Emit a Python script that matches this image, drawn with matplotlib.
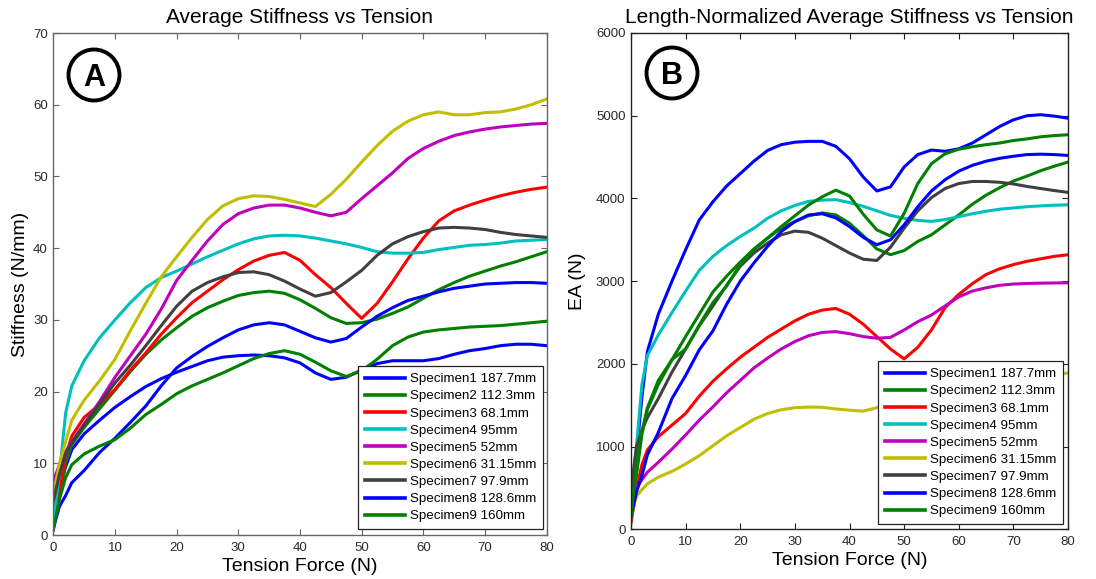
import matplotlib
matplotlib.use("Agg")
import matplotlib.pyplot as plt
from matplotlib.patches import Circle

plt.rcParams["font.family"] = ["Liberation Sans", "DejaVu Sans"]

# ── data ──────────────────────────────────────────────────────────────────────
tension = [0, 1, 2, 3, 5, 7.5, 10, 12.5, 15, 17.5, 20, 22.5, 25, 27.5, 30, 32.5,
           35, 37.5, 40, 42.5, 45, 47.5, 50, 52.5, 55, 57.5, 60, 62.5, 65, 67.5,
           70, 72.5, 75, 77.5, 80]

labels = ["Specimen1 187.7mm", "Specimen2 112.3mm", "Specimen3 68.1mm",
          "Specimen4 95mm", "Specimen5 52mm", "Specimen6 31.15mm",
          "Specimen7 97.9mm", "Specimen8 128.6mm", "Specimen9 160mm"]

# average stiffness (N/mm), panel A
stiff_1 = [2.1, 6.5, 9.5, 11.9, 14.1, 16.0, 17.8, 19.3, 20.7, 21.8, 22.7, 23.5, 24.3, 24.8, 25.0, 25.1,
           25.0, 24.7, 24.0, 22.6, 21.7, 22.0, 23.0, 23.9, 24.3, 24.3, 24.3, 24.6, 25.2, 25.7,
           26.0, 26.4, 26.6, 26.6, 26.4]
stiff_2 = [0.7, 5.5, 10.0, 12.6, 15.0, 17.6, 20.2, 22.8, 25.2, 27.2, 28.9, 30.5, 31.7, 32.6, 33.4, 33.8,
           34.0, 33.7, 32.8, 31.6, 30.3, 29.5, 29.6, 30.1, 30.9, 31.8, 33.0, 34.2, 35.2, 36.1,
           36.8, 37.5, 38.1, 38.8, 39.5]
stiff_3 = [1.2, 6.2, 11.0, 13.8, 16.4, 18.2, 20.3, 23.0, 25.4, 28.0, 30.3, 32.4, 34.0, 35.6, 37.0, 38.2,
           39.0, 39.4, 38.3, 36.3, 34.5, 32.3, 30.2, 32.3, 35.3, 38.5, 41.4, 43.8, 45.2, 46.0,
           46.7, 47.3, 47.8, 48.2, 48.5]
stiff_4 = [2.0, 8.5, 17.0, 20.8, 24.3, 27.5, 30.0, 32.4, 34.5, 35.9, 36.8, 37.8, 38.8, 39.7, 40.6, 41.3,
           41.7, 41.8, 41.7, 41.4, 41.0, 40.6, 40.1, 39.5, 39.3, 39.3, 39.4, 39.8, 40.1, 40.4,
           40.5, 40.7, 41.0, 41.1, 41.2]
stiff_5 = [7.5, 9.8, 11.6, 13.0, 15.5, 18.6, 22.0, 25.0, 28.0, 31.5, 35.5, 38.3, 41.0, 43.3, 44.8, 45.6,
           46.0, 46.0, 45.6, 45.0, 44.5, 45.0, 46.9, 48.7, 50.5, 52.5, 53.9, 54.9, 55.7, 56.2,
           56.6, 56.9, 57.1, 57.3, 57.4]
stiff_6 = [5.5, 10.0, 13.0, 16.0, 18.8, 21.5, 24.5, 28.5, 32.3, 36.0, 38.8, 41.5, 44.0, 45.9, 46.9, 47.3,
           47.2, 46.8, 46.3, 45.8, 47.5, 49.6, 52.0, 54.3, 56.3, 57.7, 58.6, 59.0, 58.6, 58.6,
           58.9, 59.0, 59.4, 60.0, 60.8]
stiff_7 = [4.7, 8.5, 11.3, 12.9, 15.3, 18.3, 21.2, 23.7, 26.4, 29.2, 31.9, 34.0, 35.2, 36.0, 36.6, 36.7,
           36.3, 35.4, 34.3, 33.3, 33.8, 35.3, 36.9, 39.0, 40.6, 41.6, 42.3, 42.8, 42.9, 42.8,
           42.6, 42.2, 41.9, 41.7, 41.5]
stiff_8 = [0.9, 4.0, 5.5, 7.3, 9.0, 11.5, 13.5, 15.7, 18.0, 20.8, 23.3, 24.9, 26.3, 27.5, 28.6, 29.3,
           29.6, 29.3, 28.4, 27.5, 26.9, 27.4, 29.0, 30.5, 31.7, 32.7, 33.3, 33.9, 34.4, 34.7,
           35.0, 35.1, 35.2, 35.2, 35.1]
stiff_9 = [0.7, 5.0, 8.0, 9.8, 11.3, 12.4, 13.3, 14.9, 16.8, 18.2, 19.7, 20.8, 21.7, 22.6, 23.6, 24.6,
           25.3, 25.7, 25.2, 24.1, 22.9, 22.1, 22.9, 24.5, 26.4, 27.6, 28.3, 28.6, 28.8, 29.0,
           29.1, 29.2, 29.4, 29.6, 29.8]

# length-normalized stiffness EA (N), panel B
ea_1 = [200, 900, 1600, 2150, 2600, 3000, 3380, 3740, 3960, 4150, 4300, 4450, 4580, 4650, 4680, 4690,
        4690, 4630, 4480, 4260, 4090, 4140, 4380, 4530, 4585, 4570, 4600, 4670, 4770, 4870,
        4950, 5000, 5012, 4995, 4970]
ea_2 = [100, 650, 1150, 1450, 1750, 2050, 2330, 2600, 2870, 3060, 3230, 3390, 3520, 3640, 3720, 3790,
        3825, 3800, 3700, 3550, 3390, 3320, 3370, 3480, 3560, 3680, 3800, 3930, 4040, 4130,
        4210, 4270, 4335, 4390, 4440]
ea_3 = [80, 480, 780, 960, 1120, 1260, 1400, 1610, 1790, 1940, 2080, 2200, 2320, 2420, 2520, 2600,
        2650, 2670, 2600, 2480, 2330, 2180, 2060, 2200, 2410, 2680, 2840, 2970, 3080, 3150,
        3200, 3240, 3270, 3300, 3319]
ea_4 = [250, 1000, 1750, 2100, 2350, 2620, 2880, 3130, 3300, 3430, 3540, 3640, 3760, 3850, 3915, 3965,
        3980, 3985, 3950, 3905, 3850, 3795, 3760, 3735, 3722, 3745, 3780, 3815, 3845, 3870,
        3885, 3900, 3910, 3918, 3923]
ea_5 = [300, 500, 600, 690, 810, 970, 1140, 1320, 1480, 1650, 1800, 1950, 2070, 2180, 2270, 2340,
        2380, 2390, 2365, 2330, 2310, 2320, 2410, 2510, 2590, 2700, 2810, 2880, 2920, 2950,
        2965, 2972, 2976, 2978, 2980]
ea_6 = [150, 400, 480, 550, 630, 700, 790, 890, 1010, 1130, 1230, 1330, 1400, 1445, 1470, 1478,
        1475, 1455, 1440, 1428, 1470, 1540, 1620, 1690, 1750, 1800, 1830, 1840, 1825, 1825,
        1835, 1840, 1850, 1870, 1890]
ea_7 = [480, 1000, 1200, 1350, 1580, 1900, 2180, 2460, 2700, 2950, 3180, 3340, 3460, 3560, 3605, 3590,
        3520, 3430, 3340, 3265, 3250, 3410, 3640, 3850, 4010, 4120, 4180, 4205, 4205, 4195,
        4175, 4145, 4120, 4095, 4073]
ea_8 = [150, 450, 650, 900, 1170, 1580, 1860, 2170, 2400, 2720, 3000, 3220, 3420, 3600, 3720, 3800,
        3815, 3765, 3660, 3530, 3440, 3500, 3680, 3900, 4090, 4226, 4330, 4400, 4450, 4485,
        4510, 4530, 4535, 4530, 4520]
ea_9 = [150, 780, 1180, 1470, 1800, 2050, 2180, 2470, 2740, 2940, 3200, 3380, 3520, 3660, 3790, 3920,
        4020, 4100, 4030, 3810, 3620, 3545, 3820, 4180, 4420, 4540, 4595, 4625, 4650, 4670,
        4700, 4720, 4745, 4760, 4770]

# MATLAB default line colours, one per specimen
colors = ["#0000ff", "#008000", "#ff0000", "#00bfbf", "#bf00bf",
          "#bfbf00", "#404040", "#0000ff", "#008000"]

stiffness = [stiff_1, stiff_2, stiff_3, stiff_4, stiff_5, stiff_6, stiff_7, stiff_8, stiff_9]
ea = [ea_1, ea_2, ea_3, ea_4, ea_5, ea_6, ea_7, ea_8, ea_9]

# ── figure ────────────────────────────────────────────────────────────────────
W, H = 1096, 579
fig = plt.figure(figsize=(W / 100, H / 100), dpi=100)

ax_a = fig.add_axes([53.3 / W, (H - 535) / H, 493.4 / W, 502 / H])
ax_b = fig.add_axes([631 / W, (H - 529.3) / H, 437 / W, 496.3 / H])


def style_axes(ax, spine_color):
    ax.tick_params(direction="in", top=True, right=True, length=4, width=0.8,
                   labelsize=9.5, colors=spine_color, labelcolor="#2a2a2a")
    ax.tick_params(axis="x", pad=5)
    ax.tick_params(axis="y", pad=4)
    for s in ax.spines.values():
        s.set_color(spine_color)
        s.set_linewidth(1.0)


def add_legend(ax, anchor):
    leg = ax.legend(loc="lower right", bbox_to_anchor=anchor, borderaxespad=0,
                    fontsize=9.6, handlelength=3.0, handletextpad=0.4,
                    labelspacing=0.36, borderpad=0.5, fancybox=False,
                    framealpha=1, edgecolor="#222222")
    leg.get_frame().set_linewidth(0.9)
    for line in leg.get_lines():
        line.set_linewidth(2.6)


# panel A
for y, c, lab in zip(stiffness, colors, labels):
    ax_a.plot(tension, y, color=c, linewidth=2.2, label=lab)
ax_a.set_xlim(0, 80)
ax_a.set_ylim(0, 70)
ax_a.set_xticks(range(0, 81, 10))
ax_a.set_yticks(range(0, 71, 10))
style_axes(ax_a, "#666666")
ax_a.set_title("Average Stiffness vs Tension", fontsize=15, pad=7)
ax_a.set_xlabel("Tension Force (N)", fontsize=14, labelpad=3)
ax_a.set_ylabel("Stiffness (N/mm)", fontsize=14, labelpad=3)
add_legend(ax_a, (0.9925, 0.012))

# panel B
for y, c, lab in zip(ea, colors, labels):
    ax_b.plot(tension, y, color=c, linewidth=2.2, label=lab)
ax_b.set_xlim(0, 80)
ax_b.set_ylim(0, 6000)
ax_b.set_xticks(range(0, 81, 10))
ax_b.set_yticks(range(0, 6001, 1000))
style_axes(ax_b, "#222222")
ax_b.set_title("Length-Normalized Average Stiffness vs Tension", fontsize=15, pad=7)
ax_b.set_xlabel("Tension Force (N)", fontsize=14, labelpad=3)
ax_b.set_ylabel("EA (N)", fontsize=14, labelpad=7)
add_legend(ax_b, (0.9886, 0.0107))

# circled panel letters (pixel positions converted to inches)
for cx, cy, letter in [(94, 75, "A"), (672, 73, "B")]:
    fig.add_artist(Circle((cx / 100, (H - cy) / 100), 0.255, fill=False,
                          edgecolor="black", linewidth=2.8,
                          transform=fig.dpi_scale_trans))
    fig.text(cx / W, (H - cy - 11) / H, letter, ha="center", va="baseline",
             fontsize=22, fontweight="bold")

fig.savefig("out.png", dpi=100)
